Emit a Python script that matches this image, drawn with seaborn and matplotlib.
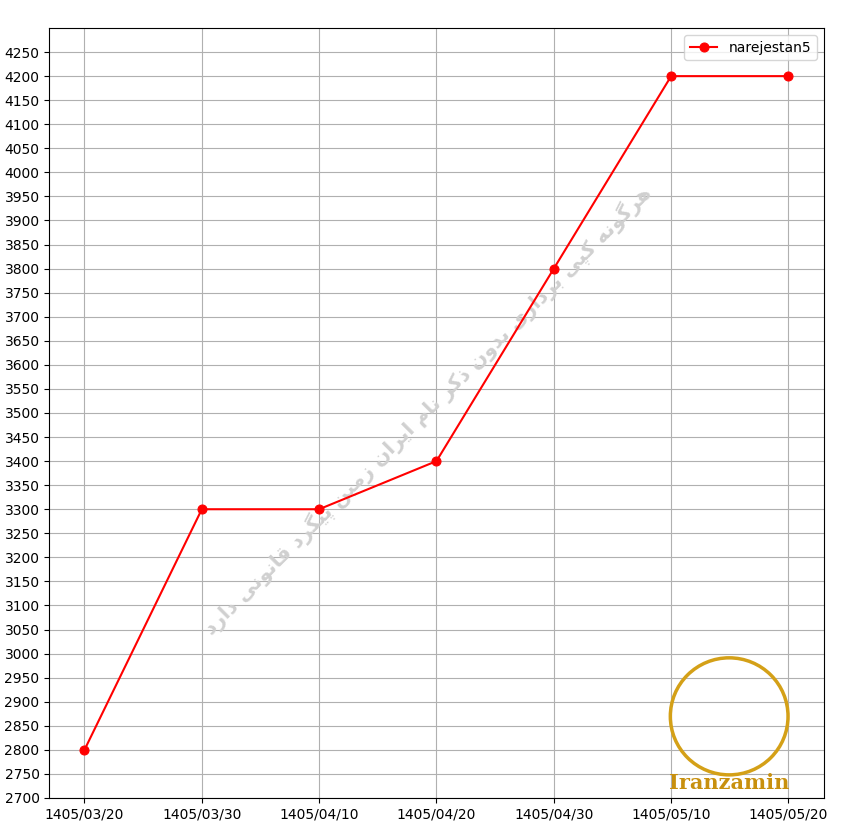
import matplotlib
matplotlib.use("Agg")
import matplotlib.pyplot as plt
import seaborn as sns
import numpy as np
import pandas as pd
from matplotlib.patches import Circle

dates = ["1405/03/20", "1405/03/30", "1405/04/10", "1405/04/20",
         "1405/04/30", "1405/05/10", "1405/05/20"]
values = [2800, 3300, 3300, 3400, 3800, 4200, 4200]
series_name = "narejestan5"
watermark = "هرگونه کپی برداری بدون ذکر نام ایران زمین پیگرد قانونی دارد"

# --- minimal Persian shaping (matplotlib has no complex text layout) ---
FORMS = {  # isolated, final, initial, medial
    "\u0627": ("\uFE8D", "\uFE8E", None, None),
    "\u0628": ("\uFE8F", "\uFE90", "\uFE91", "\uFE92"),
    "\u067E": ("\uFB56", "\uFB57", "\uFB58", "\uFB59"),
    "\u062F": ("\uFEA9", "\uFEAA", None, None),
    "\u0630": ("\uFEAB", "\uFEAC", None, None),
    "\u0631": ("\uFEAD", "\uFEAE", None, None),
    "\u0632": ("\uFEAF", "\uFEB0", None, None),
    "\u0642": ("\uFED5", "\uFED6", "\uFED7", "\uFED8"),
    "\u06A9": ("\uFB8E", "\uFB8F", "\uFB90", "\uFB91"),
    "\u06AF": ("\uFB92", "\uFB93", "\uFB94", "\uFB95"),
    "\u0645": ("\uFEE1", "\uFEE2", "\uFEE3", "\uFEE4"),
    "\u0646": ("\uFEE5", "\uFEE6", "\uFEE7", "\uFEE8"),
    "\u0647": ("\uFEE9", "\uFEEA", "\uFEEB", "\uFEEC"),
    "\u0648": ("\uFEED", "\uFEEE", None, None),
    "\u06CC": ("\uFBFC", "\uFBFD", "\uFBFE", "\uFBFF"),
}


def shape(text):
    out = []
    for i, ch in enumerate(text):
        if ch not in FORMS:
            out.append(ch)
            continue
        prev = text[i - 1] if i > 0 else " "
        nxt = text[i + 1] if i + 1 < len(text) else " "
        joins_prev = prev in FORMS and FORMS[prev][2] is not None
        joins_next = nxt in FORMS and FORMS[ch][2] is not None
        iso, fin, ini, med = FORMS[ch]
        if joins_prev and joins_next:
            out.append(med)
        elif joins_prev:
            out.append(fin)
        elif joins_next:
            out.append(ini)
        else:
            out.append(iso)
    return "".join(out)[::-1]


df = pd.DataFrame({"date": dates, "value": values})

fig = plt.figure(figsize=(8.5, 8.36), dpi=100)
ax = fig.add_axes([0.058, 0.0455, 0.911, 0.921])

sns.lineplot(data=df, x="date", y="value", ax=ax, color="red", marker="o",
             markersize=6.5, markeredgecolor="red", linewidth=1.5,
             label=series_name, sort=False)

ax.set_ylim(2700, 4300)
ax.set_yticks(np.arange(2700, 4300, 50))
ax.set_xlim(-0.3, len(dates) - 1 + 0.3)
ax.set_xlabel("")
ax.set_ylabel("")
ax.grid(True, color="#b0b0b0", linewidth=0.8)
ax.set_axisbelow(True)
ax.legend(loc="upper right")

# watermark
ax.text(0.488, 0.504, shape(watermark), transform=ax.transAxes, rotation=45,
        ha="center", va="center", fontsize=14.5, color="#d0d0d0",
        family=["DejaVu Sans"], fontweight="bold", zorder=1)

# logo placeholder
ring = Circle((0.878, 0.106), 0.076, transform=ax.transAxes, fill=False,
              edgecolor="#d4a017", linewidth=2.5, zorder=3)
ax.add_patch(ring)
ax.text(0.878, 0.019, "Iranzamin", transform=ax.transAxes, ha="center",
        va="center", fontsize=15, color="#c8900e", fontweight="bold",
        family=["DejaVu Serif"], zorder=4)

fig.savefig("out.png", dpi=100)
